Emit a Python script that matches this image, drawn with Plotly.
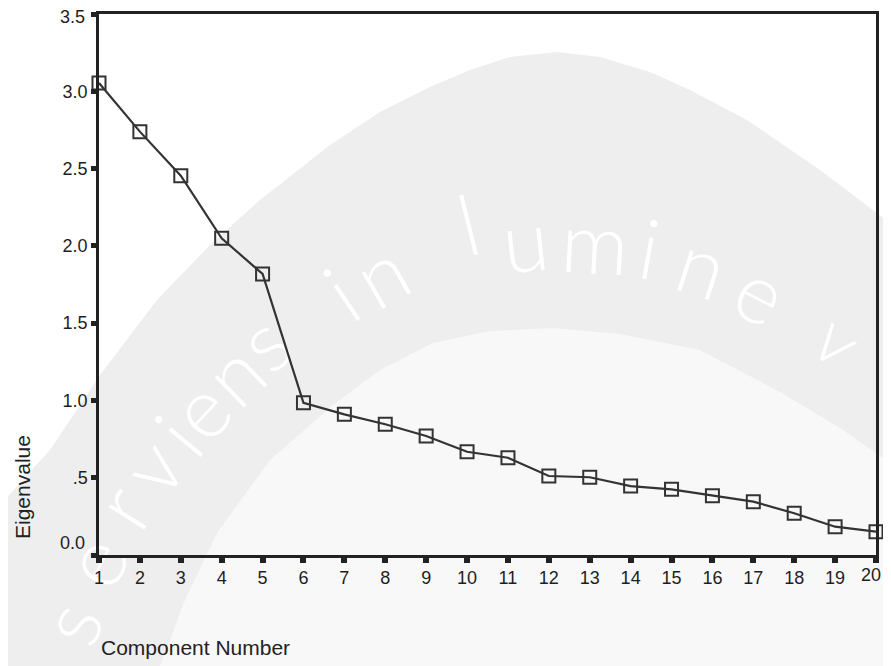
import plotly.graph_objects as go

# ---------------- data ----------------
components = list(range(1, 21))
eigenvalues = [3.054, 2.739, 2.454, 2.049, 1.818, 0.985, 0.910, 0.846, 0.770, 0.668,
               0.629, 0.511, 0.503, 0.446, 0.425, 0.384, 0.345, 0.270, 0.183, 0.151]
x_tick_vals = list(range(1, 21))
x_tick_text = [str(v) for v in x_tick_vals]
y_tick_vals = [0.0, 0.5, 1.0, 1.5, 2.0, 2.5, 3.0, 3.5]
y_tick_text = ["0.0", ".5", "1.0", "1.5", "2.0", "2.5", "3.0", "3.5"]
x_title = "Component Number"
y_title = "Eigenvalue"

# ---------------- layout geometry (screen pixels) ----------------
W, H = 891, 666
OFF = 8                      # page body margin
PX0, PX1 = 99, 876           # plot area left/right on screen
PY0, PY1 = 14, 555           # plot area top/bottom on screen
PW = PX1 - PX0
PH = PY1 - PY0


def fx(p):
    return (p - PX0) / PW


def fy(p):
    return (PY1 - p) / PH


def path_from(points):
    return "M " + " L ".join(f"{fx(a):.4f},{fy(b):.4f}" for a, b in points) + " Z"


# background watermark (decoration)
outer = [(-40, 700), (-40, 560), (0, 505), (50, 450), (100, 375), (157, 300), (210, 245),
         (260, 200), (330, 145), (380, 112), (430, 87), (470, 70), (510, 57), (557, 52),
         (600, 57), (650, 72), (690, 90), (747, 120), (820, 170), (890, 223), (950, 275),
         (950, 700)]
inner = [(140, 700), (160, 666), (185, 600), (217, 533), (270, 460), (333, 405), (380, 370),
         (433, 343), (490, 331), (553, 328), (620, 334), (700, 350), (780, 392), (840, 428),
         (890, 463), (950, 515), (950, 700)]

shapes = [
    dict(type="path", xref="paper", yref="paper", path=path_from(outer),
         fillcolor="#eeeeee", line=dict(width=0), layer="below"),
    dict(type="path", xref="paper", yref="paper", path=path_from(inner),
         fillcolor="#f8f8f8", line=dict(width=0), layer="below"),
]

letters = [("s", 68, 622, -68, 84), ("e", 92, 560, -63, 84), ("r", 120, 505, -58, 84),
           ("v", 150, 465, -54, 84), ("i", 176, 434, -50, 84), ("e", 198, 408, -47, 84),
           ("n", 232, 372, -44, 84), ("s", 262, 340, -41, 84),
           ("i", 340, 292, -34, 84), ("n", 380, 272, -30, 84),
           ("l", 468, 222, -14, 84), ("u", 525, 238, -6, 84), ("m", 595, 240, 3, 84),
           ("i", 650, 246, 10, 84), ("n", 703, 263, 18, 84), ("e", 762, 290, 27, 84),
           ("v", 840, 338, 40, 72)]
for ch, cx, cy, ang, sz in letters:
    shapes.append(dict(type="rect", xref="paper", yref="paper",
                       x0=fx(cx - 2), x1=fx(cx + 2), y0=fy(cy + 2), y1=fy(cy - 2),
                       line=dict(width=0), fillcolor="rgba(0,0,0,0)", layer="below",
                       label=dict(text=ch, textangle=ang, textposition="middle center",
                                  font=dict(family="Lato", size=sz, color="white", weight=300))))

fig = go.Figure()
fig.add_trace(go.Scatter(
    x=components, y=eigenvalues, mode="lines+markers",
    line=dict(color="#333333", width=2.2),
    marker=dict(symbol="square-open", size=13, color="#333333", line=dict(width=2, color="#333333")),
    cliponaxis=False, showlegend=False, hoverinfo="x+y"))

axis_font = dict(family="Liberation Sans, Arial, sans-serif", size=18, color="#1e1e1e")

fig.update_layout(
    width=W, height=H,
    margin=dict(l=PX0 - OFF, r=W - (PX1 - OFF), t=PY0 - OFF, b=H - (PY1 - OFF), pad=0),
    paper_bgcolor="white", plot_bgcolor="rgba(0,0,0,0)",
    shapes=shapes,
    xaxis=dict(range=[1, 20], tickmode="array", tickvals=x_tick_vals,
               ticktext=x_tick_text[:-1] + [""],
               showgrid=False, zeroline=False, showline=True, linewidth=2.5, linecolor="#222222",
               mirror=True, ticks="outside", ticklen=5, tickwidth=6, tickcolor="#222222",
               tickfont=axis_font, automargin=False, ticklabeloverflow="allow"),
    yaxis=dict(range=[0, 3.5], tickmode="array", tickvals=y_tick_vals,
               ticktext=[""] + y_tick_text[1:-1] + [""],
               showgrid=False, zeroline=False, showline=True, linewidth=2.5, linecolor="#222222",
               mirror=True, ticks="outside", ticklen=5, tickwidth=5, tickcolor="#222222",
               tickfont=axis_font, automargin=False, ticklabeloverflow="allow"),
    annotations=[
        # the 0.0 label sits slightly above its tick in the reference
        dict(text=y_tick_text[0], xref="paper", yref="paper", x=fx(87), y=fy(543), xanchor="right",
             yanchor="middle", showarrow=False, font=axis_font),
        # top label, kept inside the visible window
        dict(text=y_tick_text[-1], xref="paper", yref="paper", x=fx(87), y=fy(17), xanchor="right",
             yanchor="middle", showarrow=False, font=axis_font),
        # last x label, kept inside the visible window
        dict(text=x_tick_text[-1], xref="paper", yref="paper", x=fx(883), y=fy(575), xanchor="right",
             yanchor="middle", showarrow=False, font=axis_font),
        dict(text=y_title, xref="paper", yref="paper", x=fx(22), y=fy(487), xanchor="center",
             yanchor="middle", textangle=-90, showarrow=False,
             font=dict(family="Liberation Sans, Arial, sans-serif", size=21, color="#222222")),
        dict(text=x_title, xref="paper", yref="paper", x=fx(99), y=fy(647), xanchor="left",
             yanchor="middle", showarrow=False,
             font=dict(family="Liberation Sans, Arial, sans-serif", size=21, color="#222222")),
    ],
)

fig.write_html("out.html")
